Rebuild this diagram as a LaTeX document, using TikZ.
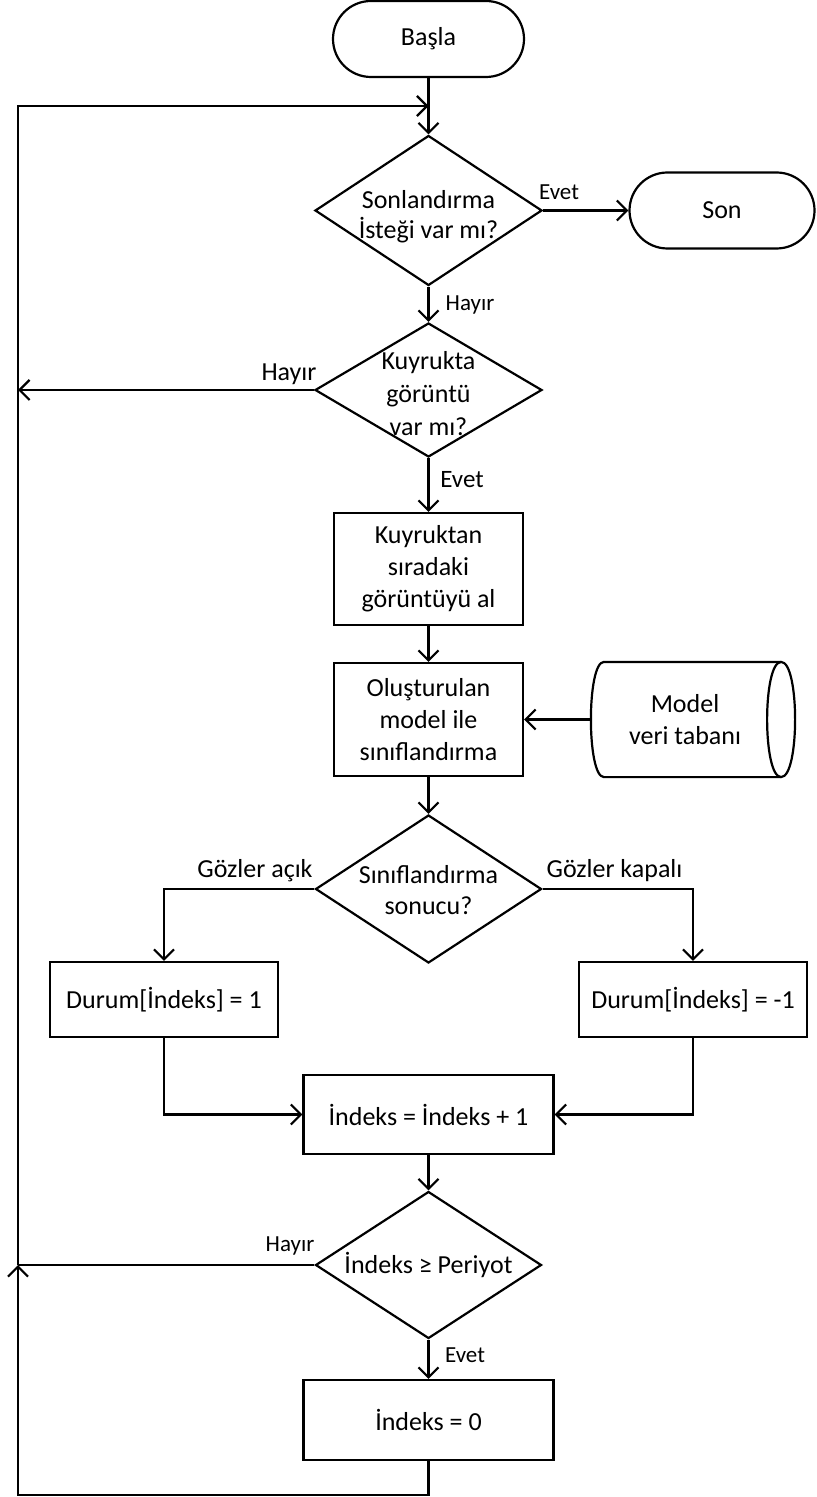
\documentclass[tikz,border=0pt]{standalone}
\usepackage{fontspec}
\setmainfont{Carlito}
\usetikzlibrary{arrows.meta,shapes.geometric}
\begin{document}
\begin{tikzpicture}[x=0.5pt,y=-0.5pt,
  line width=1.1pt,
  every node/.style={font=\fontsize{13}{16}\selectfont},
  term/.style={draw, rectangle, rounded corners=18.99pt, inner sep=0pt, minimum height=38pt},
  proc/.style={draw, rectangle, inner sep=0pt, align=center},
  dec/.style={draw, diamond, inner sep=0pt},
  dtext/.style={align=center, inner sep=0pt},
  lbl/.style={inner sep=0pt, font=\fontsize{11.5}{14}\selectfont},
  flow/.style={-{Straight Barb[length=5pt,width=10pt]}},
]
\useasboundingbox (0,0) rectangle (816,1497);

% terminals
\node[term, minimum width=95.5pt] (start) at (428.5,39) {Başla};
\node[term, minimum width=92.5pt] (stop) at (722,210.5) {Son};

% decisions (outline and text)
\node[dec, minimum width=113.5pt, minimum height=75pt] (d1) at (428.5,210.5) {};
\node[dtext, font=\fontsize{13}{15}\selectfont] (d1t) at (428.5,217) {Sonlandırma\\İsteği var mı?};

\node[dec, minimum width=113.5pt, minimum height=67pt] (d2) at (428.5,390) {};
\node[dtext, font=\fontsize{13}{16.5}\selectfont] (d2t) at (428.5,394) {Kuyrukta\\görüntü\\var mı?};

\node[dec, minimum width=113pt, minimum height=74pt] (d3) at (428.5,889) {};
\node[dtext, font=\fontsize{13}{15.5}\selectfont] (d3t) at (428.5,890) {Sınıflandırma\\sonucu?};

\node[dec, minimum width=113pt, minimum height=73.5pt] (d4) at (428.5,1265) {};
\node[dtext] (d4t) at (428.5,1265) {İndeks ≥ Periyot};

% process boxes
\node[proc, minimum width=94.5pt, minimum height=56pt] (b1) at (428.5,569) {Kuyruktan\\sıradaki\\görüntüyü al};
\node[proc, minimum width=94.5pt, minimum height=56.5pt] (b2) at (428.5,719.5) {Oluşturulan\\model ile\\sınıflandırma};
\node[proc, minimum width=114pt, minimum height=37.5pt] (bl) at (164,999.5) {Durum[İndeks] = 1};
\node[proc, minimum width=114pt, minimum height=37.5pt] (br) at (693,999.5) {Durum[İndeks] = -1};
\node[proc, minimum width=125pt, minimum height=39.5pt] (b3) at (428.5,1114.5) {İndeks = İndeks + 1};
\node[proc, minimum width=125pt, minimum height=40pt] (b4) at (428.5,1420) {İndeks = 0};

% stored data (horizontal cylinder)
\node[minimum width=87.5pt, minimum height=56.5pt, inner sep=0pt] (db) at (692.5,719.5) {};
\draw (db.north west) -- (db.north east)
  .. controls +(9.33pt,0) and +(9.33pt,0) .. (db.south east)
  -- (db.south west)
  .. controls +(-8.67pt,0) and +(-8.67pt,0) .. (db.north west);
\draw (db.north east) .. controls +(-9.33pt,0) and +(-9.33pt,0) .. (db.south east);
\node[dtext] (dbt) at (685,719.5) {Model\\veri tabanı};

% loop coordinates
\coordinate (merge) at (428.5,106);
\coordinate (corner) at (18,1495);

% main flow
\draw[flow] (start.south) -- (d1.north);
\draw[flow] (d1.east) -- (stop.west);
\draw[flow] (d1.south) -- (d2.north);
\draw[flow] (d2.south) -- (b1.north);
\draw[flow] (b1.south) -- (b2.north);
\draw[flow] ([xshift=-6.5pt]db.west) -- (b2.east);
\draw[flow] (b2.south) -- (d3.north);
\draw[flow] (d3.west) -| (bl.north);
\draw[flow] (d3.east) -| (br.north);
\draw[flow] (bl.south) |- (b3.west);
\draw[flow] (br.south) |- (b3.east);
\draw[flow] (b3.south) -- (d4.north);
\draw[flow] (d4.south) -- (b4.north);

% return paths
\draw[flow] (d2.west) -- (d2.west -| corner);
\draw (d4.west) -- (d4.west -| corner);
\draw[flow] (b4.south) -- (b4.south |- corner) -- (corner) -- (corner |- d4.west);
\draw[flow] (corner |- d4.west) -- (corner |- merge) -- (merge);

% branch labels
\node[lbl] (l1) at (559,192) {Evet};
\node[lbl] (l2) at (470,305) {Hayır};
\node[lbl, font=\fontsize{13}{16}\selectfont] (l3) at (289,374) {Hayır};
\node[lbl, font=\fontsize{12.5}{15}\selectfont] (l4) at (462,480) {Evet};
\node[lbl, font=\fontsize{13}{16}\selectfont] (l5) at (255,871) {Gözler açık};
\node[lbl, font=\fontsize{13}{16}\selectfont] (l6) at (614.5,871) {Gözler kapalı};
\node[lbl] (l7) at (290,1246) {Hayır};
\node[lbl] (l8) at (465,1355) {Evet};
\end{tikzpicture}
\end{document}
